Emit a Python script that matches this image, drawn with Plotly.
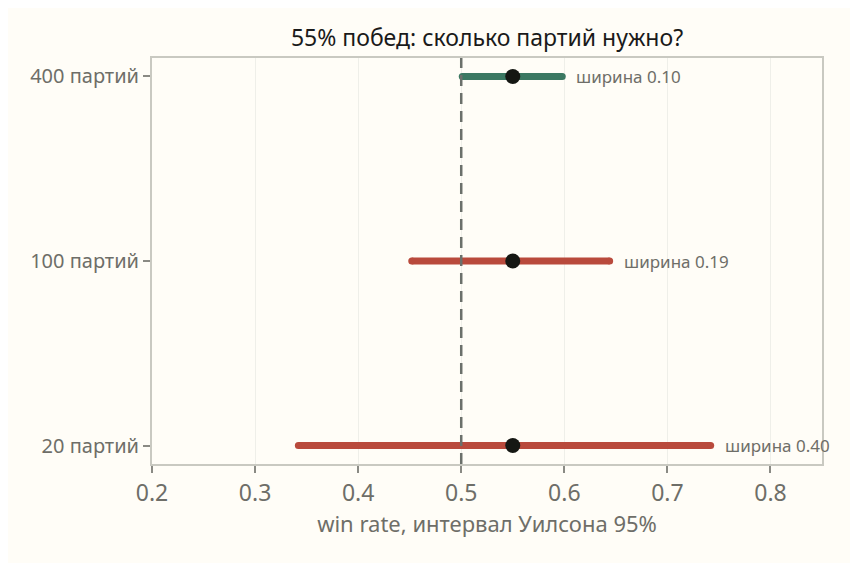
import plotly.graph_objects as go

# Wilson 95% intervals for a 55% win rate
labels = ["20 партий", "100 партий", "400 партий"]
win_rate = [0.55, 0.55, 0.55]
lower = [0.342, 0.452, 0.501]
upper = [0.742, 0.644, 0.598]
width_text = ["ширина 0.40", "ширина 0.19", "ширина 0.10"]
colors = ["#b94a3c", "#b94a3c", "#3b7862"]

bg = "#fffdf7"
grey = "#6e6e68"
font = "Noto Sans"

fig = go.Figure()

# interval bars (end markers imitate round caps)
for i in range(len(labels)):
    fig.add_trace(go.Scatter(
        x=[lower[i], upper[i]], y=[labels[i], labels[i]],
        mode="lines+markers", line=dict(color=colors[i], width=7),
        marker=dict(color=colors[i], size=7),
        showlegend=False, hoverinfo="skip"))

fig.add_trace(go.Scatter(
    x=win_rate, y=labels, mode="markers",
    marker=dict(color="#151713", size=15),
    showlegend=False))

fig.add_vline(x=0.5, line=dict(color="#6b706b", width=2.5, dash="11px,7px"))

# width labels to the right of each interval
for i in range(len(labels)):
    fig.add_annotation(
        x=upper[i], y=labels[i], text=width_text[i], showarrow=False,
        xanchor="left", yanchor="middle", xshift=12,
        font=dict(family=font, size=17, color=grey))

fig.update_xaxes(
    range=[0.2, 0.85], tickvals=[0.2, 0.3, 0.4, 0.5, 0.6, 0.7, 0.8],
    ticktext=["0.2", "0.3", "0.4", "0.5", "0.6", "0.7", "0.8"],
    showgrid=True, gridcolor="#efefe9", gridwidth=1,
    showline=True, linecolor="#c9c9c1", linewidth=2, mirror=True,
    ticks="outside", ticklen=7, tickcolor="#8a8a84", tickwidth=2,
    tickfont=dict(family=font, size=23, color=grey),
    title=dict(text="win rate, интервал Уилсона 95%",
               font=dict(family=font, size=22, color=grey), standoff=3),
    zeroline=False)

fig.update_yaxes(
    categoryorder="array", categoryarray=labels, range=[-0.1, 2.1],
    showgrid=False,
    showline=True, linecolor="#c9c9c1", linewidth=2, mirror=True,
    ticks="outside", ticklen=7, tickcolor="#8a8a84", tickwidth=2,
    tickfont=dict(family=font, size=20, color=grey),
    zeroline=False)

fig.update_layout(
    width=850, height=555,
    margin=dict(l=144, r=36, t=50, b=99),
    paper_bgcolor=bg, plot_bgcolor=bg,
    title=dict(text="55% побед: сколько партий нужно?",
               x=0.5, xref="paper", y=0.946, yref="container",
               xanchor="center", yanchor="middle",
               font=dict(family=font, size=23, color="#1a1a1a")),
)

fig.write_html("out.html")
